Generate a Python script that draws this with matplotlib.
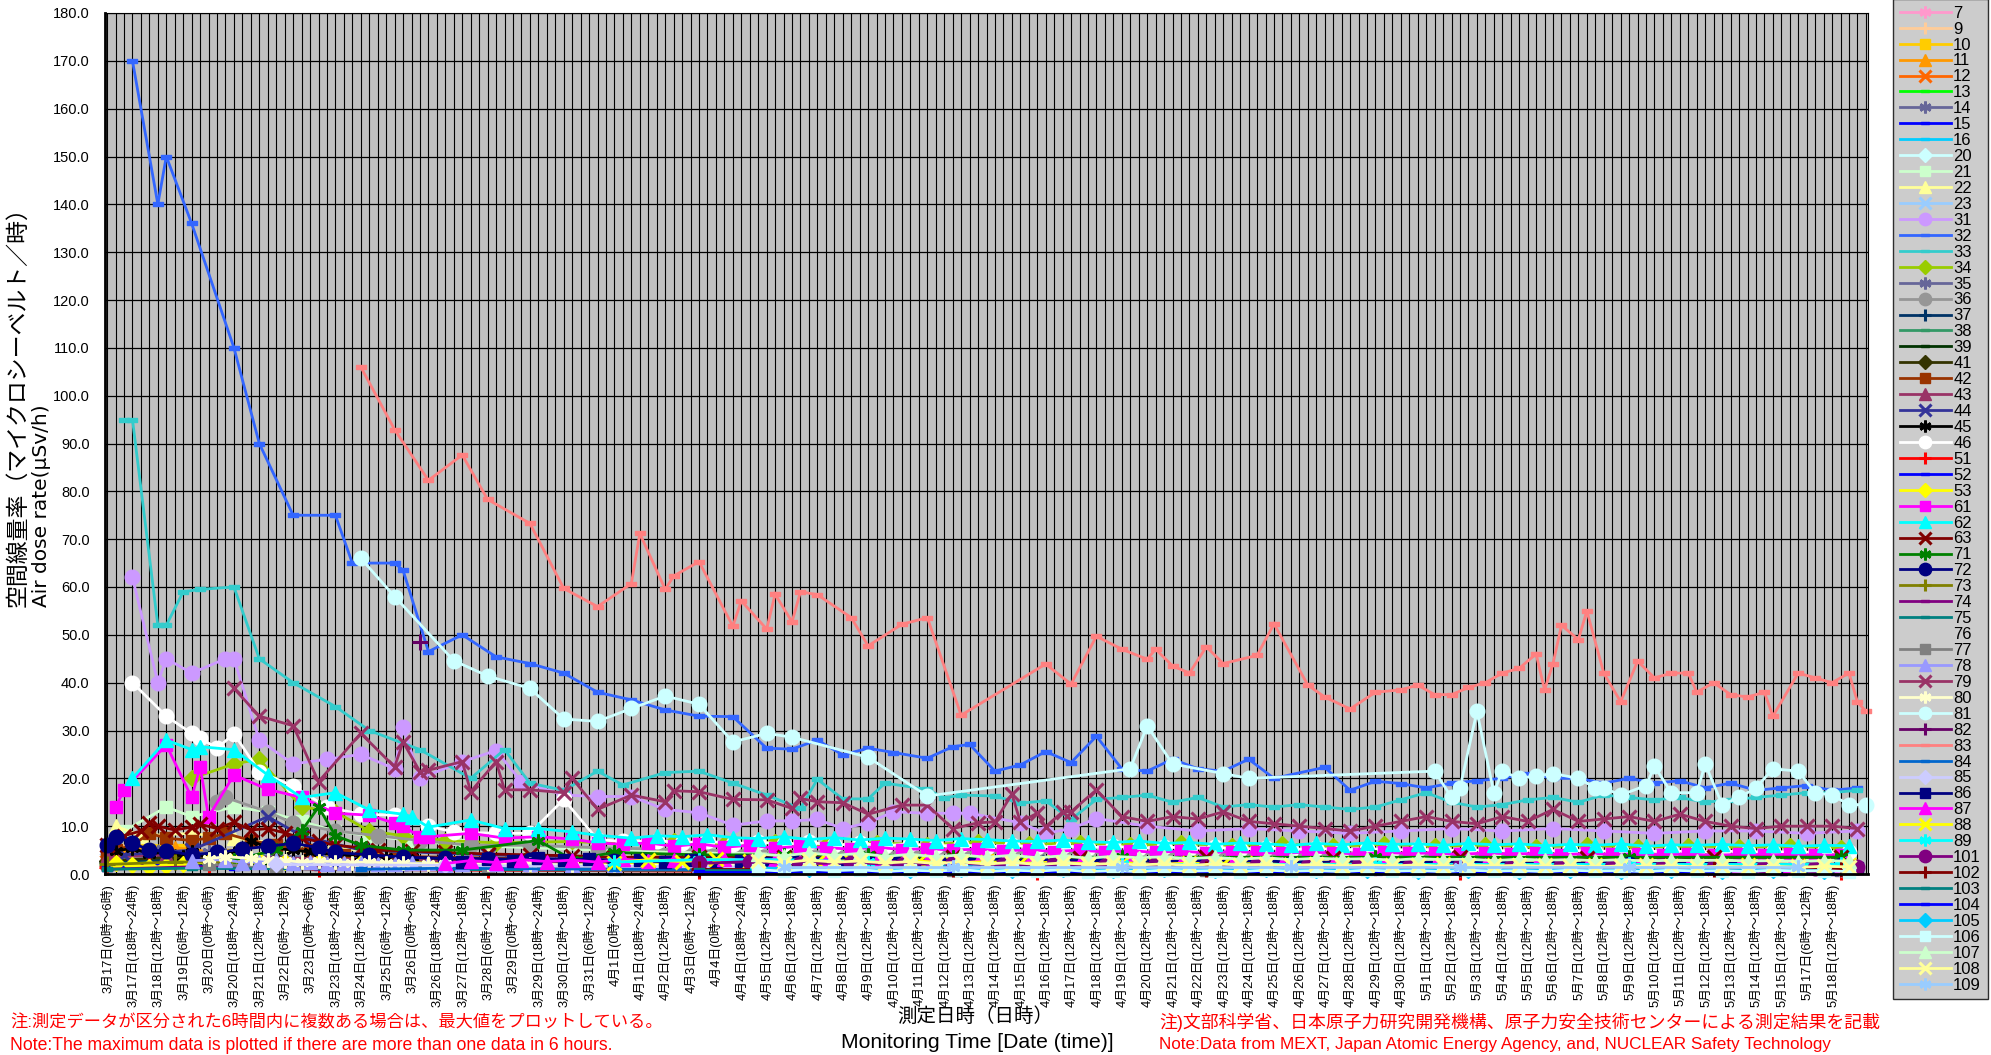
import matplotlib
matplotlib.use('Agg')
import matplotlib.pyplot as plt
from matplotlib.path import Path

plt.rcParams['font.family'] = ['Liberation Sans', 'Noto Sans CJK JP', 'DejaVu Sans']

# ---------------- data ----------------
N_CATS = 209
TICK_LABELS = [
    "3月17日(0時～6時)", "3月17日(18時～24時)", "3月18日(12時～18時)", "3月19日(6時～12時)",
    "3月20日(0時～6時)", "3月20日(18時～24時)", "3月21日(12時～18時)", "3月22日(6時～12時)",
    "3月23日(0時～6時)", "3月23日(18時～24時)", "3月24日(12時～18時)", "3月25日(6時～12時)",
    "3月26日(0時～6時)", "3月26日(18時～24時)", "3月27日(12時～18時)", "3月28日(6時～12時)",
    "3月29日(0時～6時)", "3月29日(18時～24時)", "3月30日(12時～18時)", "3月31日(6時～12時)",
    "4月1日(0時～6時)", "4月1日(18時～24時)", "4月2日(12時～18時)", "4月3日(6時～12時)",
    "4月4日(0時～6時)", "4月4日(18時～24時)", "4月5日(12時～18時)",
] + ["4月%d日(12時～18時)" % d for d in range(6, 31)] \
  + ["5月%d日(12時～18時)" % d for d in range(1, 16)] \
  + ["5月17日(6時～12時)", "5月18日(12時～18時)"]

S7 = [(0,3),(3,4),(10,3),(20,2.5),(40,2),(60,1.5),(80,1.5),(110,1),(140,1),(170,1),(200,1)]
S9 = [(1,6),(5,5),(12,4),(22,3),(35,2.5),(55,2),(80,1.8),(110,1.5),(150,1.3),(190,1.2)]
S10 = [(1,5),(4,6.5),(9,5),(14,4),(26,3),(40,2.5),(60,2),(100,3.5),(104,3.5),(140,1.5),(180,1.5)]
S11 = [(0,4),(3,5),(8,5.5),(13,4.5),(20,3.5),(32,3),(50,2.5),(80,2),(120,1.8),(170,1.5)]
S12 = [(0,2.5),(4,3),(10,3.5),(18,3),(30,2.5),(50,2),(80,1.5),(130,1.3),(190,1.2)]
S13 = [(0,2),(6,2.5),(15,2.5),(30,2),(60,1.5),(100,1.2),(150,1),(200,1)]
S14 = [(0,3.5),(5,4),(12,4.5),(20,3.5),(40,3),(70,2.5),(110,2),(160,1.8),(205,1.5)]
S15 = [(0,1),(5,1.5),(15,1.2),(40,1),(80,0.8),(120,0.8),(170,0.7),(205,0.7)]
S16 = [(0,2),(8,2.5),(20,2),(45,1.5),(90,1.2),(140,1),(200,1)]
S20 = [(0,2),(10,2.5),(25,2),(50,1.8),(90,1.5),(140,1.2),(200,1)]
S21 = [(2,9),(7,14),(10,12),(15,14),(19,13),(23,11),(27,9),(31,8),(36,7),(42,6),(50,5.5),(58,5),
       (70,4.5),(85,4),(100,3.5),(120,3.5),(150,3),(180,3),(205,3)]
S22 = [(1,10),(4,8),(10,8.5),(15,7.5),(22,6),(30,5),(45,4),(65,3.5),(90,3),(130,3),(170,2.5),(205,2.5)]
S23 = [(0,3),(8,3.5),(18,3),(35,2.5),(60,2),(100,1.8),(150,1.5),(200,1.5)]
S31 = [(3,62),(6,40),(7,45),(10,42),(14,45),(15,45),(18,28),(22,23),(26,24),(30,25),(34,22),(35,30.8),
       (37,20),(42,23.5),(46,25.8),(49,19.3),(54,16.5),(58,16.2),(62,16.2),(66,13.5),(70,12.8),(74,10.2),
       (78,11.1),(81,11.1),(84,11.4),(87,9.5),(90,10.7),(93,13),(97,12.7),(100,12.7),(102,12.7),(108,10.7),
       (111,8.5),(114,9.5),(117,11.6),(123,10),(129,9),(135,9.5),(141,9),(147,8.5),(153,9),(159,9.5),
       (165,9),(171,9.5),(177,9),(183,8.5),(189,9),(195,9),(201,8.5),(207,9)]
S32 = [(3,170),(6,140),(7,150),(10,136),(15,110),(18,90),(22,75),(27,75),(29,65),(34,65),(35,63.5),
       (38,46.5),(42,50),(46,45.4),(50,44),(54,42),(58,38),(62,36.4),(66,34.3),(70,33),(74,32.9),(78,26.3),
       (81,26.1),(84,28),(87,24.9),(90,26.3),(93,25.4),(97,24.2),(100,26.6),(102,27.1),(105,21.5),(108,22.8),
       (111,25.6),(114,23.3),(117,28.8),(120,22),(123,21.5),(126,24),(129,22),(132,21.5),(135,24),(138,20),
       (144,22.3),(147,17.5),(150,19.4),(153,18.9),(156,18),(159,19),(162,19.5),(165,20),(168,21),(171,20),
       (174,20),(177,19),(180,20),(183,19),(186,19.5),(189,18),(192,19),(195,17.5),(198,18),(201,18.5),
       (204,17.5),(207,18)]
S33 = [(2,95),(3,95),(6,52),(7,52),(9,59),(11,59.5),(15,60),(18,45),(22,40),(27,35),(31,30),(37,26),
       (43,20),(47,26),(50,19),(54,17.5),(58,21.5),(61,18.6),(66,21.2),(70,21.5),(74,19),(78,16.5),(82,13.7),
       (84,19.8),(87,15.7),(90,15.7),(92,19),(97,17.7),(99,15.9),(101,16.5),(105,16.3),(108,14.8),(111,15.3),
       (114,11.4),(117,15.6),(120,16),(123,16.5),(126,15),(129,16),(132,14),(135,14.5),(138,14),(141,14.5),
       (144,14),(147,13.5),(150,14),(153,15.5),(156,17),(159,15),(162,14),(165,14.5),(168,15.5),(171,16),
       (174,15),(177,16.5),(180,16),(183,15.5),(186,16),(189,15),(192,15.5),(195,16),(198,16.5),(201,17),
       (204,17),(207,17.5)]
S34 = [(10,20),(15,23),(18,24),(23,14),(27,13),(31,9),(35,8),(40,7),(46,6.5),(55,6.8),(61,6.3),(67,6.9),
       (73,6.2),(79,6.6),(85,6.0),(91,6.5),(97,6.1),(103,6.7),(109,6.2),(115,6.5),(121,6.0),(127,6.4),
       (133,5.9),(139,6.3),(145,5.8),(151,6.2),(157,5.8),(163,6.1),(169,5.7),(175,6.0),(181,5.6),(187,5.9),
       (193,5.6),(199,5.8),(205,5.5)]
S35 = [(1,4),(6,4.5),(14,4),(25,3.5),(45,3),(80,2.5),(130,2),(190,2)]
S36 = [(13,15),(14,16),(19,13),(22,10.6),(27,9),(32,8),(37,7),(43,6),(50,6),(58,5.5),(70,5),(90,4.5),
       (110,4.5),(140,4),(170,4),(205,4)]
S37 = [(0,2.5),(6,3),(15,3),(30,2.5),(55,2),(90,1.8),(140,1.5),(200,1.5)]
S38 = [(0,1.5),(10,2),(25,2),(50,1.5),(90,1.2),(150,1),(205,1)]
S39 = [(0,1.2),(12,1.8),(28,1.8),(60,1.4),(100,1.2),(160,1),(205,1)]
S41 = [(0,2.8),(8,3.5),(20,3),(40,2.5),(70,2),(120,1.8),(180,1.5)]
S42 = [(0,4),(1,5),(3,6),(5,8.5),(7,7.5),(10,7),(12,7.5),(14,8.5),(17,7),(20,6),(24,5),(28,4),(34,3.7),
       (40,3.5),(50,3.2),(60,3),(80,2.8),(100,2.5),(125,2.3),(150,2),(175,2),(200,2)]
S43 = [(0,3.5),(7,4),(16,3.5),(30,3),(55,2.5),(90,2),(150,1.8),(205,1.5)]
S44 = [(2,4),(10,5),(19,12),(23,8),(30,5),(45,4),(70,3),(110,2.5),(160,2),(205,2)]
S45 = [(1,4.8),(3,5.4),(5,4.2),(7,4.6),(9,3.6),(10,4.5),(12,3.4),(13,3.8),(15,4.2),(17,7),(19,5.5),(22,5),
       (24,4.6),(27,4),(30,3.8),(33,3.6),(36,3.5),(40,3.2),(45,3),(50,2.8),(55,2.6),(60,2.5),(70,2.5),
       (80,2.4),(90,2.5),(100,2.2),(115,2.1),(130,2),(150,2),(170,2),(190,1.9),(205,2)]
S46 = [(3,40),(7,33),(10,29.4),(11,28.4),(13,26.3),(15,29.3),(18,21.4),(22,18.4),(26,14),(30,12.5),
       (34,12.3),(38,10),(41,8.8),(46,8.5),(50,8.5),(54,15.6),(58,7.2),(61,6.8),(65,7.0),(68,6.5),(71,6.9),
       (74,6.3),(77,6.7),(80,6.2),(83,6.6),(86,6.0),(89,6.4),(92,5.9),(95,6.3),(98,5.8),(101,6.1),(104,5.7),
       (107,6.0),(110,5.6),(113,5.9),(116,5.5),(119,5.8),(122,5.4),(125,5.7),(128,5.3),(131,5.6),(134,5.2),
       (137,5.5),(140,5.1),(143,5.4),(146,5.0),(149,5.3),(152,5.0),(155,5.2),(158,4.9),(161,5.1),(164,4.8),
       (167,5.0),(170,4.8),(173,5.0),(176,4.7),(179,4.9),(182,4.7),(185,4.8),(188,4.6),(191,4.8),(194,4.6),
       (197,4.7),(200,4.5),(203,4.7),(206,4.5)]
S51 = [(0,1.5),(5,2),(12,1.5),(25,1),(45,0.8),(70,0.6),(110,0.5),(160,0.5),(205,0.5)]
S52 = [(0,1.5),(6,1.8),(15,1.5),(35,1.2),(70,1),(120,0.9),(180,0.8)]
S53 = [(1,2.2),(3,1.9),(5,1.4),(7,1.6),(9,2.1),(12,2.5),(15,2.8),(18,3),(21,2.6),(25,2.5),(30,2.3),
       (35,2.5),(40,2.1),(50,2),(60,2.1),(80,2),(100,1.9),(120,2),(140,1.9),(170,2),(205,2)]
S61 = [(1,14),(2,17.6),(7,27),(10,16),(11,22.4),(12,12),(15,20.7),(19,17.7),(23,16),(27,12.7),(31,12.3),
       (34,10.6),(35,10),(37,7.8),(38,7.8),(43,8.5),(47,7.5),(51,7.8),(55,7.3),(58,6.5),(61,6.2),(64,6.5),
       (67,5.8),(70,6.3),(73,5.6),(76,6.0),(79,5.4),(82,5.8),(85,5.5),(88,5.2),(91,5.6),(94,5.1),(97,5.3),
       (100,5.0),(103,5.2),(106,4.8),(109,5.1),(112,4.7),(115,5.0),(118,4.6),(121,4.9),(124,4.5),(127,4.8),
       (130,4.4),(133,4.7),(136,4.5),(139,4.3),(142,4.6),(145,4.4),(148,4.2),(151,4.5),(154,4.3),(157,4.4),
       (160,4.1),(163,4.4),(166,4.2),(169,4.3),(172,4.0),(175,4.3),(178,4.1),(181,4.2),(184,4.0),(187,4.2),
       (190,3.9),(193,4.1),(196,4.0),(199,4.1),(202,3.9),(205,4.0)]
S62 = [(3,20),(7,28),(10,26),(11,26.6),(15,26),(19,20.7),(23,16),(27,17),(31,13.4),(35,12.5),(36,12),
       (38,9.8),(43,11.3),(47,9.5),(51,9.5),(55,8.8),(58,8.1),(62,7.5),(65,8),(68,7.8),(71,8.2),(74,7.6),
       (77,7.4),(80,7.8),(83,7.2),(86,7.6),(89,7.1),(92,7.5),(95,7.3),(98,7.0),(101,7.4),(104,7.2),(107,6.9),
       (110,6.8),(113,7.1),(116,6.7),(119,6.6),(122,6.9),(125,6.4),(128,6.6),(131,6.2),(134,6.5),(137,6.3),
       (140,6.0),(143,6.4),(146,6.1),(149,6.5),(152,6.2),(155,6.3),(158,6.0),(161,6.4),(164,6.1),(167,6.3),
       (170,5.9),(173,6.2),(176,6.0),(179,6.3),(182,5.8),(185,6.1),(188,6.0),(191,6.2),(194,5.9),(197,6.1),
       (200,5.8),(203,6.0),(206,5.9)]
S63 = [(0,6),(2,8),(4,9),(5,10.6),(6,10),(8,9.2),(10,9.8),(11,10.4),(13,9.5),(15,10.8),(17,9.2),(19,9.5),
       (21,8.6),(23,7.5),(25,6.8),(27,6),(30,5.5),(32,5),(36,4.8),(40,4.5),(45,4.2),(50,4),(55,3.8),(60,3.5),
       (70,3.6),(80,3.5),(90,3.4),(100,3.5),(115,3.4),(130,3.5),(145,3.3),(160,3.5),(175,3.4),(190,3.5),
       (205,3.5)]
S71 = [(15,3),(20,5),(23,9),(25,14),(27,8),(30,6),(35,5),(42,5),(51,7),(55,3),(60,4.5),(70,4),(80,4),
       (90,4),(100,3.5),(120,3.5),(150,3.5),(180,3.5),(205,3.5)]
S72 = [(0,6),(1,7.8),(3,6.5),(5,5),(7,4.8),(10,4),(13,4.5),(16,5.2),(19,5.8),(22,6.4),(25,5.5),(27,4.5),
       (31,4),(35,3.5),(40,3.3),(45,3.2),(50,3),(60,2.8),(70,2.5),(85,2.3),(100,2),(120,2.1),(140,2),
       (160,1.9),(180,2),(205,1.9)]
S73 = [(0,2),(8,2.5),(20,2.5),(40,2),(70,1.8),(110,1.5),(160,1.5),(205,1.5)]
S74 = [(0,1),(10,1.5),(25,1.2),(50,1),(90,1),(150,0.8),(205,0.8)]
S75 = [(0,1),(10,1.2),(30,1),(60,0.8),(100,0.8),(150,0.6),(205,0.6)]
S76 = []
S77 = [(12,2),(20,1.5),(30,1),(45,1.5),(60,1),(80,1),(100,0.8),(130,0.8),(170,0.8),(205,0.8)]
S78 = [(10,2.8),(14,3),(16,2.4),(18,2.6),(20,2.9),(22,2.2),(24,2.5),(26,2),(28,2.3),(30,2.4),(32,2.1),
       (34,2),(36,2.3),(38,2.2),(40,1.9),(42,2),(46,2.1),(50,2),(55,1.9),(60,1.8),(70,1.7),(80,1.5),(95,1.6),
       (110,1.5),(130,1.4),(150,1.2),(175,1.3),(205,1.2)]
S79 = [(15,38.8),(18,33),(22,31),(25,19.3),(30,29.4),(34,22.4),(35,27.6),(37,21.4),(38,21.7),(42,23.5),
       (43,17.2),(46,23.5),(47,17.6),(50,17.6),(54,17),(55,20),(58,13.5),(62,16.5),(66,15.1),(67,17.4),
       (70,17.2),(74,15.6),(78,15.5),(81,13.7),(82,15.8),(84,15.1),(87,14.9),(90,12.5),(94,14.4),(97,14.4),
       (100,9.5),(103,10.7),(105,10.9),(107,16.7),(108,10.9),(110,12.7),(111,9.9),(113,13),(114,13),
       (117,17.6),(120,12),(123,11),(126,12),(129,11.5),(132,13),(135,11),(138,10.5),(141,10),(144,9.5),
       (147,9),(150,10),(153,11),(156,12),(159,11),(162,10.5),(165,12),(168,11),(171,13.5),(174,11),
       (177,11.5),(180,12),(183,11),(186,12.5),(189,11),(192,10),(195,9.5),(198,10),(201,10),(204,10),
       (207,9.5)]
S80 = [(12,3.2),(14,3.6),(17,3.3),(19,3),(21,2.8),(23,2.5),(25,2.7),(27,2.6),(29,2.4),(31,2.5),(33,2.3),
       (35,2.2),(38,2.1),(40,2),(45,2.1),(50,2),(55,1.9),(60,1.8),(70,1.9),(80,1.8),(95,1.7),(110,1.5),
       (130,1.6),(150,1.5),(175,1.4),(205,1.5)]
S81 = [(30,66),(34,58),(41,44.6),(45,41.4),(50,38.8),(54,32.4),(58,31.9),(62,34.6),(66,37.2),(70,35.5),
       (74,27.6),(78,29.4),(81,28.6),(90,24.4),(97,16.3),(121,22),(123,31),(126,23),(132,21),(135,20),
       (157,21.5),(159,16),(160,18),(162,34),(164,17),(165,21.5),(167,20),(169,20.5),(171,21),(174,20),
       (176,18),(177,18),(179,16.5),(182,18.5),(183,22.5),(185,17),(188,17),(189,23),(191,14.5),(193,16),
       (195,18),(197,22),(200,21.5),(202,17),(204,16.5),(206,14.5),(208,14.5)]
S82 = [(37,48.5)]
S83 = [(30,106),(34,92.9),(38,82.3),(42,87.6),(45,78.3),(50,73.3),(54,59.7),(58,55.9),(62,60.7),(63,71.2),
       (66,59.5),(67,62.3),(70,65.3),(74,51.8),(75,57.1),(78,51.2),(79,58.5),(81,52.7),(82,59),(84,58.4),
       (88,53.6),(90,47.7),(94,52.2),(97,53.6),(101,33.2),(111,43.9),(114,39.7),(117,49.7),(120,47),
       (123,44.9),(124,47),(126,43.5),(128,42),(130,47.5),(132,44),(136,45.7),(138,52.3),(142,39.5),
       (144,37),(147,34.5),(150,38),(153,38.5),(155,39.5),(157,37.5),(159,37.5),(161,39),(163,40),(165,42),
       (167,43),(169,46),(170,38.5),(171,44),(172,52),(174,49),(175,55),(177,42),(179,36),(181,44.5),
       (183,41),(185,42),(187,42),(188,38),(190,40),(192,37.5),(194,37),(196,38),(197,33),(200,42),
       (202,41),(204,40),(206,42),(207,36),(208,34)]
S84 = [(30,1),(40,1.2),(60,1),(90,0.8),(130,0.8),(180,0.8)]
S85 = [(20,2),(40,1.8),(70,1.5),(110,1.2),(160,1),(205,1)]
S86 = [(42,2.6),(45,3.2),(48,2.8),(51,3.3),(54,2.9),(57,3.1),(60,2.7),(63,3.0),(66,2.6),(69,2.9),(72,2.5),
       (75,2.8),(78,2.4),(81,2.7),(84,2.3),(87,2.6),(90,2.2),(93,2.5),(96,2.1),(99,2.4),(102,2.0),(105,2.3),
       (108,1.9),(111,2.2),(114,1.8),(117,2.1),(120,1.8),(123,2.0),(126,1.7),(129,1.9),(132,1.7),(135,1.8),
       (138,1.6),(141,1.8),(144,1.5),(147,1.7),(150,1.5),(153,1.6),(156,1.4),(159,1.6),(162,1.4),(165,1.5),
       (168,1.3),(171,1.5),(174,1.3),(177,1.4),(180,1.2),(183,1.4),(186,1.2),(189,1.3),(192,1.2),(195,1.3),
       (198,1.1),(201,1.2),(204,1.1),(207,1.2)]
S87 = [(40,2.2),(43,2.8),(46,2.4),(49,3.0),(52,2.6),(55,2.9),(58,2.5),(61,3.1),(64,2.7),(67,3.0),(70,2.6),
       (73,3.2),(76,2.8),(79,3.0),(82,2.6),(85,2.9),(88,2.5),(91,2.8),(94,2.4),(97,2.7),(100,2.3),(103,2.6),
       (106,2.2),(109,2.5),(112,2.1),(115,2.4),(118,2.0),(121,2.3),(124,1.9),(127,2.2),(130,1.8),(133,2.1),
       (136,1.9),(139,2.0),(142,1.7),(145,2.0),(148,1.8),(151,1.9),(154,1.6),(157,1.9),(160,1.7),(163,1.8),
       (166,1.6),(169,1.8),(172,1.5),(175,1.7),(178,1.6),(181,1.7),(184,1.5),(187,1.6),(190,1.4),(193,1.6),
       (196,1.5),(199,1.6),(202,1.4),(205,1.5)]
S88 = [(60,2.4),(64,3.0),(68,2.6),(72,3.1),(76,2.7),(80,2.9),(84,2.5),(88,2.8),(92,2.4),(96,2.7),(100,2.3),
       (104,2.6),(108,2.2),(112,2.5),(116,2.1),(120,2.4),(124,2.0),(128,2.3),(132,2.0),(136,2.2),(140,1.9),
       (146,2.1),(152,1.9),(158,2.0),(164,1.8),(170,1.9),(176,1.8),(182,1.9),(188,1.7),(194,1.8),(200,1.7),
       (206,1.8)]
S89 = [(60,2.5),(70,3),(80,3),(90,2.5),(100,2),(120,2),(150,2),(180,2),(205,2)]
S101 = [(70,2.2),(76,2.6),(82,2.1),(88,2.4),(94,1.9),(100,2.3),(106,1.8),(112,2.1),(118,1.7),(124,2.0),
        (130,1.6),(136,1.9),(142,1.6),(148,1.8),(154,1.5),(160,1.7),(166,1.5),(172,1.6),(178,1.4),(184,1.6),
        (190,1.4),(196,1.5),(202,1.3),(207,1.4)]
S102 = [(70,1),(100,1),(130,1),(160,1),(190,1),(205,1)]
S103 = [(70,0.8),(100,0.8),(130,0.8),(160,0.8),(190,0.8)]
S104 = [(70,0.5),(100,0.5),(130,0.5),(160,0.5),(190,0.5)]
S105 = [(77,1.3),(83,1.0),(89,1.2),(95,0.9),(101,1.1),(107,0.9),(113,1.1),(119,0.8),(125,1.0),(131,0.8),
        (137,1.0),(143,0.8),(149,0.9),(155,0.7),(161,0.9),(167,0.7),(173,0.9),(179,0.7),(185,0.8),(191,0.7),
        (197,0.8),(203,0.7)]
S106 = [(77,0.9),(80,0.6),(83,1.0),(86,0.7),(89,0.9),(92,0.5),(95,0.8),(98,0.6),(101,0.9),(104,0.5),
        (107,0.8),(110,0.6),(113,0.9),(116,0.5),(119,0.7),(122,0.5),(125,0.8),(128,0.6),(131,0.7),(134,0.5),
        (137,0.8),(140,0.6),(143,0.7),(146,0.5),(149,0.8),(152,0.6),(155,0.7),(158,0.5),(161,0.8),(164,0.6),
        (167,0.7),(170,0.5),(173,0.8),(176,0.6),(179,0.7),(182,0.5),(185,0.8),(188,0.6),(191,0.7),(194,0.5),
        (197,0.8),(200,0.6),(203,0.7),(206,0.5)]
S107 = [(77,4.2),(80,3.8),(83,4.4),(86,3.9),(89,4.3),(92,3.7),(95,4.1),(98,3.6),(101,4.0),(104,3.5),
        (107,3.9),(110,3.4),(113,3.8),(116,3.3),(119,3.7),(122,3.4),(125,3.6),(128,3.2),(131,3.5),(134,3.1),
        (137,3.4),(140,3.0),(143,3.3),(146,3.1),(149,3.2),(152,2.9),(155,3.2),(158,3.0),(161,3.1),(164,2.8),
        (167,3.1),(170,2.9),(173,3.0),(176,2.8),(179,3.0),(182,2.7),(185,2.9),(188,2.8),(191,2.9),(194,2.7),
        (197,2.8),(200,2.6),(203,2.8),(206,2.7)]
S108 = [(77,2.8),(80,2.4),(83,2.9),(86,2.5),(89,2.7),(92,2.3),(95,2.6),(98,2.2),(101,2.5),(104,2.1),
        (107,2.4),(110,2.0),(113,2.3),(116,2.0),(119,2.2),(122,1.9),(125,2.1),(128,1.8),(131,2.1),(134,1.9),
        (137,2.0),(140,1.8),(143,2.0),(146,1.7),(149,1.9),(152,1.7),(155,1.9),(158,1.6),(161,1.8),(164,1.7),
        (167,1.8),(170,1.6),(173,1.7),(176,1.5),(179,1.7),(182,1.6),(185,1.7),(188,1.5),(191,1.6),(194,1.5),
        (197,1.6),(200,1.4),(203,1.6),(206,1.5)]
S109 = [(80,1.5),(100,1.5),(120,1.5),(140,1.5),(160,1.5),(180,1.5),(200,1.5)]

SERIES = [
    ("7", S7), ("9", S9), ("10", S10), ("11", S11), ("12", S12), ("13", S13), ("14", S14), ("15", S15),
    ("16", S16), ("20", S20), ("21", S21), ("22", S22), ("23", S23), ("31", S31), ("32", S32), ("33", S33),
    ("34", S34), ("35", S35), ("36", S36), ("37", S37), ("38", S38), ("39", S39), ("41", S41), ("42", S42),
    ("43", S43), ("44", S44), ("45", S45), ("46", S46), ("51", S51), ("52", S52), ("53", S53), ("61", S61),
    ("62", S62), ("63", S63), ("71", S71), ("72", S72), ("73", S73), ("74", S74), ("75", S75), ("76", S76),
    ("77", S77), ("78", S78), ("79", S79), ("80", S80), ("81", S81), ("82", S82), ("83", S83), ("84", S84),
    ("85", S85), ("86", S86), ("87", S87), ("88", S88), ("89", S89), ("101", S101), ("102", S102),
    ("103", S103), ("104", S104), ("105", S105), ("106", S106), ("107", S107), ("108", S108), ("109", S109),
]

# ---------------- styles ----------------
STYLE = {
    "7": ("#FF99CC", "ast"), "9": ("#FFCC99", "plus"), "10": ("#FFCC00", "sq"), "11": ("#FF9900", "tri"),
    "12": ("#FF6600", "x"), "13": ("#00FF00", "dash"), "14": ("#666699", "ast"), "15": ("#0000FF", "dash"),
    "16": ("#00CCFF", "dash"), "20": ("#CCFFFF", "dia"), "21": ("#CCFFCC", "sq"), "22": ("#FFFF99", "tri"),
    "23": ("#99CCFF", "x"), "31": ("#CC99FF", "circ"), "32": ("#3366FF", "dash"), "33": ("#33CCCC", "dash"),
    "34": ("#99CC00", "dia"), "35": ("#666699", "ast"), "36": ("#969696", "circ"), "37": ("#003366", "plus"),
    "38": ("#339966", "dash"), "39": ("#003300", "dash"), "41": ("#333300", "dia"), "42": ("#993300", "sq"),
    "43": ("#993366", "tri"), "44": ("#333399", "x"), "45": ("#000000", "ast"), "46": ("#FFFFFF", "circ"),
    "51": ("#FF0000", "plus"), "52": ("#0000FF", "dash"), "53": ("#FFFF00", "dia"), "61": ("#FF00FF", "sq"),
    "62": ("#00FFFF", "tri"), "63": ("#800000", "x"), "71": ("#008000", "ast"), "72": ("#000080", "circ"),
    "73": ("#808000", "plus"), "74": ("#800080", "dash"), "75": ("#008080", "dash"), "76": (None, None),
    "77": ("#808080", "sq"), "78": ("#9999FF", "tri"), "79": ("#993366", "x"), "80": ("#FFFFCC", "ast"),
    "81": ("#CCFFFF", "circ"), "82": ("#660066", "plus"), "83": ("#FF8080", "dash"), "84": ("#0066CC", "dash"),
    "85": ("#CCCCFF", "dia"), "86": ("#000080", "sq"), "87": ("#FF00FF", "tri"), "88": ("#FFFF00", "x"),
    "89": ("#00FFFF", "ast"), "101": ("#800080", "circ"), "102": ("#800000", "plus"), "103": ("#008080", "dash"),
    "104": ("#0000FF", "dash"), "105": ("#00CCFF", "dia"), "106": ("#CCFFFF", "sq"), "107": ("#CCFFCC", "tri"),
    "108": ("#FFFF99", "x"), "109": ("#99CCFF", "ast"),
}
DASH = Path([(-1, -0.35), (1, -0.35), (1, 0.35), (-1, 0.35), (-1, -0.35)],
            [Path.MOVETO, Path.LINETO, Path.LINETO, Path.LINETO, Path.CLOSEPOLY])
MK = {"ast": ((6, 2, 0), 10, 2.0), "plus": ("+", 11, 2.2), "sq": ("s", 9, 1), "tri": ("^", 10.5, 1),
      "x": ("x", 9.5, 2.2), "dash": (DASH, 7, 1), "dia": ("D", 8, 1), "circ": ("o", 10.5, 1)}

W, H = 1991, 1055
fig = plt.figure(figsize=(W / 100, H / 100), dpi=100)
L, R, T, B = 105, 1868, 13, 874
ax = fig.add_axes([L / W, 1 - B / H, (R - L) / W, (B - T) / H])
ax.set_facecolor('#C0C0C0')
ax.set_xlim(-0.25, N_CATS - 0.75)
ax.set_ylim(0, 180)

handles = []
for name, pts in SERIES:
    col, mk = STYLE[name]
    if col is None:
        h, = ax.plot([], [], linestyle='none', marker=None, label=name)
        handles.append(h)
        continue
    xs = [p[0] for p in pts]
    ys = [p[1] for p in pts]
    m, ms, mew = MK[mk]
    h, = ax.plot(xs, ys, color=col, lw=2.0, marker=m, markersize=ms, mfc=col, mec=col, mew=mew,
                 clip_on=False, label=name, solid_joinstyle='miter')
    handles.append(h)

# grid / ticks
ax.set_xticks(range(0, 3 * len(TICK_LABELS), 3))
ax.set_xticklabels(TICK_LABELS, rotation=90, fontsize=9.3, va='top', ha='center')
ax.set_xticks(range(N_CATS), minor=True)
ax.set_yticks(range(0, 181, 10))
ax.set_yticklabels(["%.1f" % v for v in range(0, 181, 10)], fontsize=10.5)
ax.tick_params(axis='both', which='both', length=0)
ax.tick_params(axis='y', pad=11)
ax.tick_params(axis='x', pad=7)
ax.grid(True, which='both', axis='x', color='black', lw=0.8)
ax.grid(True, which='major', axis='y', color='black', lw=0.9)
ax.set_axisbelow(True)
for s in ['top', 'right']:
    ax.spines[s].set_linewidth(0.8)
for s in ['left', 'bottom']:
    ax.spines[s].set_linewidth(2.0)

# legend
leg = fig.legend(handles=handles, labels=[n for n, _ in SERIES], loc='upper left',
                 bbox_to_anchor=(1893 / W, 1 + 1 / H), frameon=True, fancybox=False,
                 facecolor='#C0C0C0', edgecolor='black', fontsize=12, labelspacing=0.056,
                 handlelength=3.06, handletextpad=0.15, borderpad=0.4, borderaxespad=0,
                 markerscale=0.85)
leg.get_frame().set_linewidth(1.0)

# axis titles
fig.text(18 / W, 1 - 607 / H, "空間線量率（マイクロシーベルト／時）", rotation=90, fontsize=16.5,
         ha='center', va='bottom')
fig.text(41.5 / W, 1 - 607 / H, "Air dose rate(μSv/h)", rotation=90, fontsize=14.5,
         family=['DejaVu Sans'], ha='center', va='bottom')
fig.text(975 / W, 1 - 1017 / H, "測定日時（日時）", fontsize=14, ha='center', va='center')
fig.text(977 / W, 1 - 1042 / H, "Monitoring Time [Date (time)]", fontsize=15.2, ha='center', va='center')

# notes
fig.text(10 / W, 1 - 1022 / H, "注:測定データが区分された6時間内に複数ある場合は、最大値をプロットしている。",
         color='red', fontsize=12.4, ha='left', va='center')
fig.text(10 / W, 1 - 1045 / H, "Note:The maximum data is plotted if there are more than one data in 6 hours.",
         color='red', fontsize=12.7, ha='left', va='center')
fig.text(1159 / W, 1 - 1022 / H, "注)文部科学省、日本原子力研究開発機構、原子力安全技術センターによる測定結果を記載",
         color='red', fontsize=12.9, ha='left', va='center')
fig.text(1159 / W, 1 - 1045 / H, "Note:Data from MEXT, Japan Atomic Energy Agency, and, NUCLEAR Safety Technology",
         color='red', fontsize=12.3, ha='left', va='center')

fig.savefig('out.png', dpi=100, facecolor='white')
